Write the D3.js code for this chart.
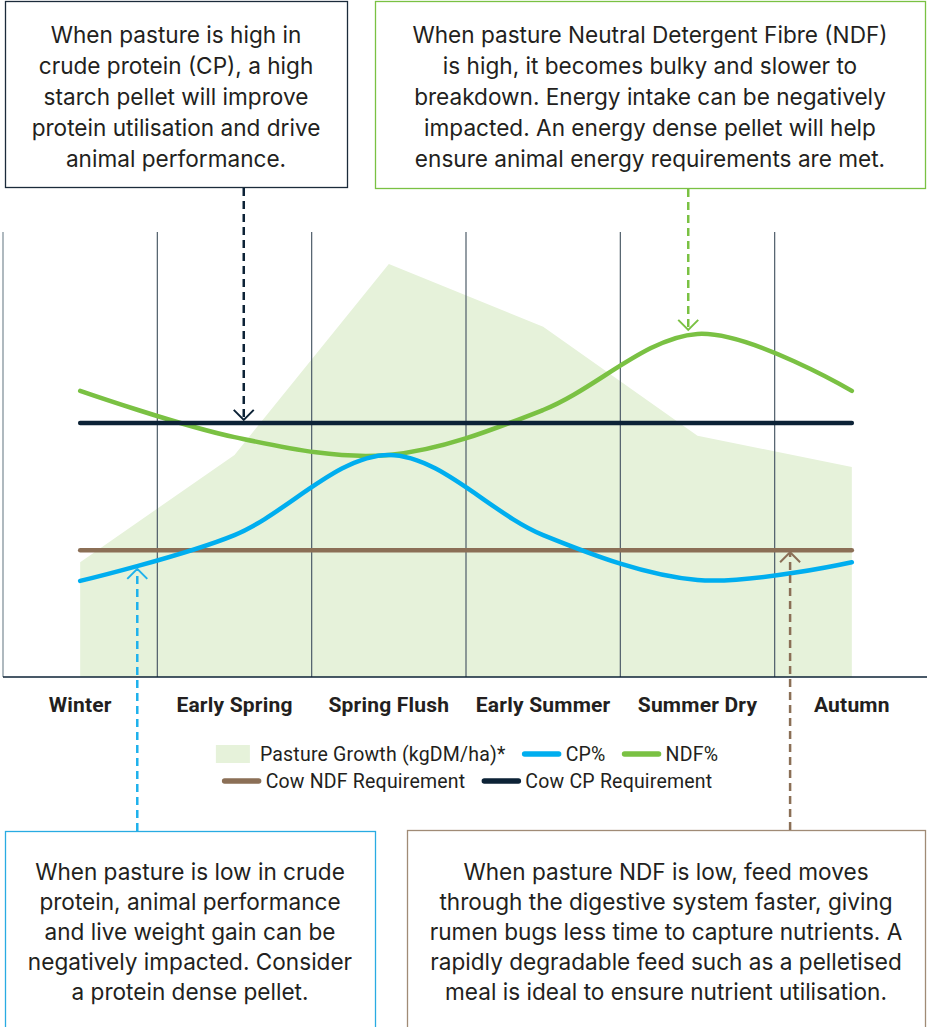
<!DOCTYPE html>
<html>
<head>
<meta charset="utf-8">
<script src="https://cdn.jsdelivr.net/npm/d3@7"></script>
<style>
  body { margin: 0; background: #fff; }
  svg { display: block; }
  .box text { font-family: Inter, "Noto Sans", sans-serif; font-size: 22.6px; fill: #231f20; }
  .season { font-family: Roboto, sans-serif; font-weight: 700; font-size: 21px; fill: #231f20; letter-spacing: 0.2px; }
  .legend text { font-family: Roboto, sans-serif; font-size: 19.5px; fill: #231f20; letter-spacing: 0.2px; }
</style>
</head>
<body>
<svg></svg>
<script>
// values, on one shared 0-100 scale
const categories = ["Winter", "Early Spring", "Spring Flush", "Early Summer", "Summer Dry", "Autumn"];
const pastureGrowth = [25.8, 49.9, 92.8, 78.7, 54.2, 47.2];
const cpPct = [21.6, 31.9, 49.9, 31.9, 21.8, 25.8];
const ndfPct = [64.3, 53.9, 49.9, 60.0, 77.1, 64.3];
const cowCpRequirement = 57.1;
const cowNdfRequirement = 28.5;

const legendRow1 = ["Pasture Growth (kgDM/ha)*", "CP%", "NDF%"];
const legendRow2 = ["Cow NDF Requirement", "Cow CP Requirement"];

const colors = {
	pasture: "#e6f2da",
	cp: "#00aeef",
	ndf: "#7ac143",
	cpReq: "#0c2236",
	ndfReq: "#8b6f56",
	grid: "#4d5c68",
};

const svg = d3.select("svg").attr("width", 927).attr("height", 1027);

const x = d3.scaleBand().domain(categories).range([3, 929]);
const y = d3.scaleLinear().domain([0, 100]).range([677, 232]);
const cx = (d) => x(d) + x.bandwidth() / 2;

// pasture area
const area = d3.area()
	.x((d, i) => cx(categories[i]))
	.y0(y(0))
	.y1((d) => y(d));
svg.append("path").attr("d", area(pastureGrowth)).attr("fill", colors.pasture);

// season dividers
svg.append("g").selectAll("line")
	.data(categories)
	.join("line")
	.attr("x1", (d) => x(d))
	.attr("x2", (d) => x(d))
	.attr("y1", y(100))
	.attr("y2", y(0))
	.attr("stroke", (d, i) => (i === 0 ? "#7a8a94" : colors.grid))
	.attr("stroke-width", 1.2);

svg.append("line")
	.attr("x1", 3).attr("x2", 927)
	.attr("y1", y(0)).attr("y2", y(0))
	.attr("stroke", colors.cpReq).attr("stroke-width", 1.5);

const x0 = cx(categories[0]);
const x1 = cx(categories[categories.length - 1]);

function hline(v, color) {
	svg.append("line")
		.attr("x1", x0).attr("x2", x1)
		.attr("y1", y(v)).attr("y2", y(v))
		.attr("stroke", color).attr("stroke-width", 4.5)
		.attr("stroke-linecap", "round");
}

const curve = d3.line()
	.x((d, i) => cx(categories[i]))
	.y((d) => y(d))
	.curve(d3.curveCardinal.tension(0));

hline(cowNdfRequirement, colors.ndfReq);
svg.append("path").attr("d", curve(ndfPct)).attr("fill", "none")
	.attr("stroke", colors.ndf).attr("stroke-width", 4.5).attr("stroke-linecap", "round");
hline(cowCpRequirement, colors.cpReq);
svg.append("path").attr("d", curve(cpPct)).attr("fill", "none")
	.attr("stroke", colors.cp).attr("stroke-width", 4.5).attr("stroke-linecap", "round");

// season labels
svg.append("g").selectAll("text")
	.data(categories)
	.join("text")
	.attr("class", "season")
	.attr("x", (d) => cx(d))
	.attr("y", 712)
	.attr("text-anchor", "middle")
	.text((d) => d);

// legend
const legend = svg.append("g").attr("class", "legend");
function legendRow(items, kinds, yy) {
	const g = legend.append("g");
	let pos = 0;
	items.forEach((label, i) => {
		const kind = kinds[i];
		if (kind === "pasture") {
			g.append("rect").attr("x", pos).attr("y", yy - 9).attr("width", 34).attr("height", 18)
				.attr("fill", colors.pasture);
		} else {
			g.append("line").attr("x1", pos + 3).attr("x2", pos + 37).attr("y1", yy).attr("y2", yy)
				.attr("stroke", colors[kind]).attr("stroke-width", 5.5).attr("stroke-linecap", "round");
		}
		const t = g.append("text").attr("x", pos + 44).attr("y", yy + 7).text(label);
		pos += 44 + t.node().getComputedTextLength() + 16;
	});
	const w = pos - 16;
	g.attr("transform", `translate(${467 - w / 2},0)`);
}
legendRow(legendRow1, ["pasture", "cp", "ndf"], 754);
legendRow(legendRow2, ["ndfReq", "cpReq"], 781);

// callout boxes
const boxes = [
	{ x: 5, y: 1, w: 342, h: 186, color: "#1b2b3b", first: 43, step: 31,
		lines: ["When pasture is high in", "crude protein (CP), a high", "starch pellet will improve", "protein utilisation and drive", "animal performance."] },
	{ x: 375, y: 1, w: 550, h: 187, color: "#7ac143", first: 43, step: 31,
		lines: ["When pasture Neutral Detergent Fibre (NDF)", "is high, it becomes bulky and slower to", "breakdown. Energy intake can be negatively", "impacted. An energy dense pellet will help", "ensure animal energy requirements are met."] },
	{ x: 5, y: 831, w: 370, h: 220, color: "#29abe2", first: 880, step: 30,
		lines: ["When pasture is low in crude", "protein, animal performance", "and live weight gain can be", "negatively impacted. Consider", "a protein dense pellet."] },
	{ x: 407, y: 830, w: 518, h: 220, color: "#a08b76", first: 880, step: 30,
		lines: ["When pasture NDF is low, feed moves", "through the digestive system faster, giving", "rumen bugs less time to capture nutrients. A", "rapidly degradable feed such as a pelletised", "meal is ideal to ensure nutrient utilisation."] },
];

const boxG = svg.append("g").attr("class", "box");
boxes.forEach((b) => {
	boxG.append("rect").attr("x", b.x + 0.5).attr("y", b.y + 0.5).attr("width", b.w).attr("height", b.h)
		.attr("fill", "#fff").attr("stroke", b.color).attr("stroke-width", 1.3);
	boxG.append("text")
		.attr("text-anchor", "middle")
		.selectAll("tspan")
		.data(b.lines)
		.join("tspan")
		.attr("x", b.x + b.w / 2)
		.attr("y", (d, i) => b.first + i * b.step)
		.text((d) => d);
});

// dashed pointers
function pointer(px, fromY, tipY, color) {
	const dir = tipY > fromY ? 1 : -1;
	svg.append("line")
		.attr("x1", px).attr("x2", px)
		.attr("y1", fromY).attr("y2", tipY - dir * 1)
		.attr("stroke", color).attr("stroke-width", 2.5)
		.attr("stroke-dasharray", "8,5");
	svg.append("path")
		.attr("d", `M${px - 10},${tipY - dir * 10}L${px},${tipY}L${px + 10},${tipY - dir * 10}`)
		.attr("fill", "none").attr("stroke", color).attr("stroke-width", 2);
}
const bw = x.bandwidth();
pointer(x("Early Spring") + bw * 0.56, 188, y(cowCpRequirement) - 3, colors.cpReq);
pointer(x("Summer Dry") + bw * 0.44, 189, y(ndfPct[4]) - 4, colors.ndf);
pointer(x("Winter") + bw * 0.87, 831, y(cpPct[0]) - 12, "#1eb1ec");
pointer(x("Autumn") + bw * 0.10, 830, y(cowNdfRequirement) + 2, colors.ndfReq);
</script>
</body>
</html>
